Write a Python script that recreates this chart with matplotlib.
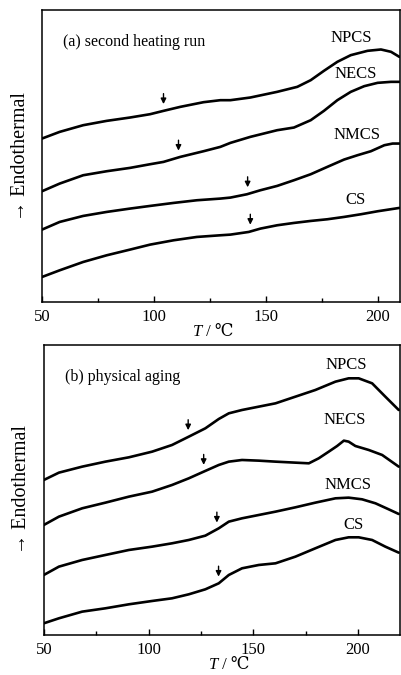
import numpy as np
import matplotlib
matplotlib.use('Agg')
import matplotlib.pyplot as plt

plt.rcParams['font.family'] = ['Liberation Serif', 'DejaVu Serif']

# ---- (a) second heating run ----
a_npcs_t = [50, 57.9, 68.4, 78.9, 89.3, 98.3, 104.3, 111.8, 122.2, 129.7, 134.2, 143.1,
            155.1, 164.1, 170.1, 176.0, 182.0, 188.0, 195.5, 201.5, 206.0, 209.7]
a_npcs_v = [490, 510, 530, 543, 553, 563, 573, 585, 599, 605, 605, 613,
            630, 645, 665, 693, 720, 740, 753, 757, 750, 735]
a_necs_t = [50, 57.9, 68.4, 78.9, 89.3, 98.3, 104.3, 111.8, 122.2, 129.7, 134.2, 143.1,
            149.1, 155.1, 162.6, 170.1, 176.0, 182.0, 188.0, 194.0, 200.0, 206.0, 209.7]
a_necs_v = [332, 355, 380, 392, 402, 413, 420, 435, 452, 465, 477, 495,
            505, 515, 523, 545, 573, 605, 630, 647, 657, 660, 660]
a_nmcs_t = [50, 57.9, 68.4, 78.9, 89.3, 98.3, 108.8, 119.2, 129.7, 134.2, 141.6, 147.6,
            155.1, 162.6, 170.1, 177.5, 185.0, 191.0, 197.0, 203.0, 206.7, 209.7]
a_nmcs_v = [217, 240, 258, 270, 280, 288, 297, 305, 310, 313, 323, 335,
            348, 365, 383, 405, 427, 440, 452, 470, 475, 475]
a_cs_t = [50, 57.9, 68.4, 78.9, 89.3, 98.3, 108.8, 119.2, 129.7, 134.2, 142.4, 147.6,
          155.1, 162.6, 170.1, 177.5, 185.0, 192.5, 200.0, 209.7]
a_cs_v = [75, 95, 120, 140, 157, 172, 185, 195, 200, 202, 210, 220,
          230, 237, 243, 248, 255, 263, 272, 282]
a_arrows = [104.3, 111.0, 141.9, 143.1]

# ---- (b) physical aging ----
b_npcs_t = [50, 57.2, 68.3, 79.4, 90.6, 101.7, 111.2, 119.2, 127.1, 133.5, 138.3, 144.6,
            152.6, 160.6, 170.1, 179.6, 189.2, 195.5, 200.3, 206.7, 213.0, 219.4]
b_npcs_v = [465, 487, 505, 520, 533, 550, 570, 595, 620, 648, 665, 675,
            685, 695, 715, 735, 760, 770, 770, 755, 715, 675]
b_necs_t = [50, 57.2, 68.3, 79.4, 90.6, 101.7, 111.2, 119.2, 126.3, 133.5, 138.3, 144.6,
            152.6, 160.6, 170.1, 176.5, 181.2, 186.0, 190.0, 193.2, 195.5, 198.7,
            205.1, 211.5, 219.4]
b_necs_v = [330, 355, 380, 397, 415, 430, 450, 470, 490, 510, 520, 525,
            523, 520, 517, 515, 530, 550, 567, 583, 580, 567,
            555, 540, 505]
b_nmcs_t = [50, 57.2, 68.3, 79.4, 90.6, 101.7, 111.2, 119.2, 127.1, 133.5, 138.3, 144.6,
            152.6, 160.6, 170.1, 179.6, 189.2, 195.5, 201.9, 208.3, 214.6, 219.4]
b_nmcs_v = [180, 205, 225, 240, 255, 265, 275, 285, 298, 320, 340, 350,
            360, 370, 383, 397, 410, 412, 407, 395, 377, 363]
b_cs_t = [50, 57.2, 68.3, 79.4, 90.6, 101.7, 111.2, 119.2, 127.1, 133.5, 138.3, 144.6,
          152.6, 160.6, 170.1, 179.6, 189.2, 195.5, 200.3, 206.7, 213.0, 219.4]
b_cs_v = [35, 50, 70, 80, 92, 102, 110, 122, 137, 155, 180, 200,
          210, 215, 235, 260, 285, 293, 293, 285, 265, 247]
b_arrows = [118.9, 126.3, 132.6, 133.4]

names = ['NPCS', 'NECS', 'NMCS', 'CS']

a_curves = [(a_npcs_t, a_npcs_v), (a_necs_t, a_necs_v), (a_nmcs_t, a_nmcs_v), (a_cs_t, a_cs_v)]
b_curves = [(b_npcs_t, b_npcs_v), (b_necs_t, b_necs_v), (b_nmcs_t, b_nmcs_v), (b_cs_t, b_cs_v)]
a_label_pos = [(188.4, 790), (190, 685), (190.7, 500), (190, 305)]
b_label_pos = [(194.4, 810), (193.7, 645), (195, 450), (197.6, 330)]

fig = plt.figure(figsize=(4.02, 6.75), dpi=100)
ax1 = fig.add_axes([0.1045, 0.5526, 0.8905, 0.4324])
ax2 = fig.add_axes([0.109, 0.0593, 0.886, 0.4296])


def draw_panel(ax, curves, arrows, label_pos, title, xmax, ymax, xl_split, xl_y):
    for (t, v), at, name, (lx, ly) in zip(curves, arrows, names, label_pos):
        ax.plot(t, v, color='black', lw=1.9, solid_capstyle='round',
                solid_joinstyle='round')
        yv = np.interp(at, t, v)
        ax.annotate('', xy=(at, yv + 12), xytext=(at, yv + 60),
                    arrowprops=dict(arrowstyle='-|>', color='black', lw=1.0,
                                    mutation_scale=8))
        ax.text(lx, ly, name, ha='center', va='center', fontsize=12)
    ax.text(0.06, 0.89, title, transform=ax.transAxes, ha='left', va='center',
            fontsize=11.5)
    ax.set_xlim(50, xmax)
    ax.set_ylim(0, ymax)
    ax.set_xticks([50, 100, 150, 200])
    ax.set_xticks([75, 125, 175], minor=True)
    ax.set_yticks([])
    ax.tick_params(axis='x', which='both', direction='in', labelsize=12, pad=5)
    ax.tick_params(axis='x', which='major', length=4, width=1.0)
    ax.tick_params(axis='x', which='minor', length=3, width=1.0)
    for s in ax.spines.values():
        s.set_linewidth(1.1)
    # x label "T / ℃" with italic T
    ax.text(xl_split, xl_y, 'T', style='italic', transform=ax.transAxes,
            ha='right', va='center', fontsize=12)
    ax.text(xl_split, xl_y, ' / ℃', transform=ax.transAxes,
            ha='left', va='center', fontsize=12)
    ax.set_ylabel('→ Endothermal', fontsize=14.5, labelpad=9)


draw_panel(ax1, a_curves, a_arrows, a_label_pos, '(a) second heating run', 210, 875,
           0.447, -0.103)
draw_panel(ax2, b_curves, b_arrows, b_label_pos, '(b) physical aging', 220, 870,
           0.489, -0.104)

fig.savefig('out.png', dpi=100)
